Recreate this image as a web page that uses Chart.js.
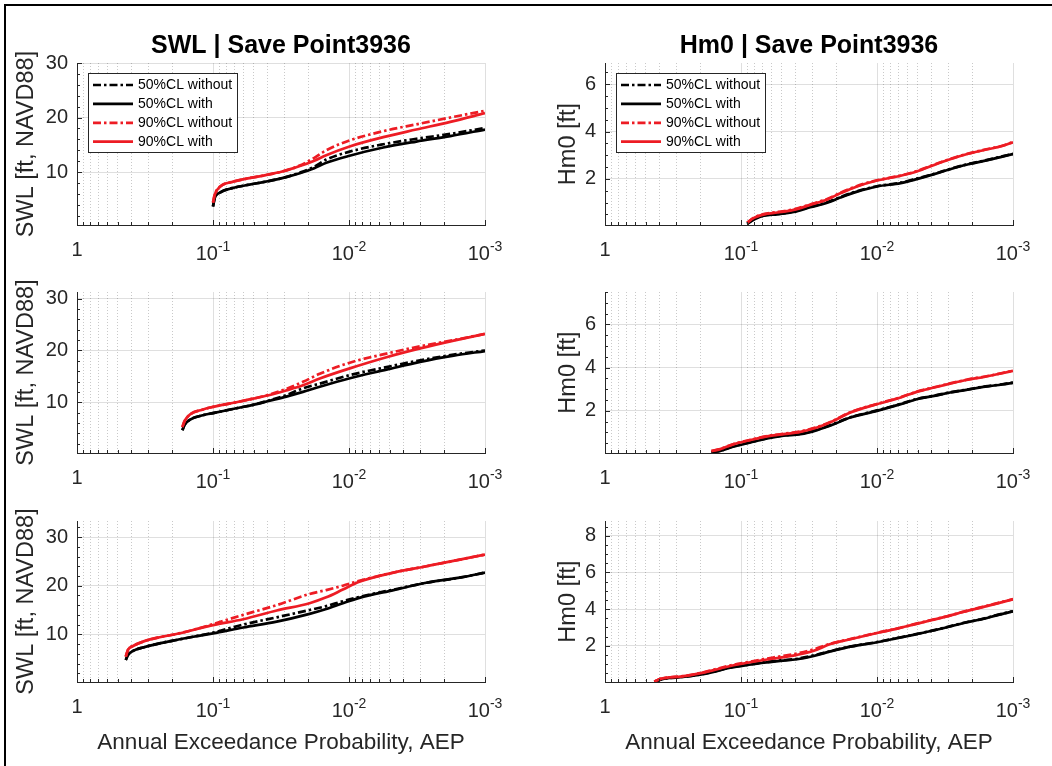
<!DOCTYPE html>
<html>
<head>
<meta charset="utf-8">
<script src="https://cdn.jsdelivr.net/npm/chart.js@4.4.1/dist/chart.umd.min.js"></script>
<style>
  html, body { margin: 0; padding: 0; background: #fff; }
  body { width: 1052px; height: 766px; position: relative; overflow: hidden; }
  .frame { position: absolute; left: 4px; top: 4px; width: 1100px; height: 800px;
           border-left: 2px solid #000; border-top: 2px solid #000; }
  canvas.panel { position: absolute; top: 0; }
</style>
</head>
<body>
<div class="frame"></div>
<canvas class="panel" id="swl1" width="520" height="766" style="left:0"></canvas>
<canvas class="panel" id="hm01" width="532" height="766" style="left:520px"></canvas>
<canvas class="panel" id="swl2" width="520" height="766" style="left:0"></canvas>
<canvas class="panel" id="hm02" width="532" height="766" style="left:520px"></canvas>
<canvas class="panel" id="swl3" width="520" height="766" style="left:0"></canvas>
<canvas class="panel" id="hm03" width="532" height="766" style="left:520px"></canvas>
<script>
// ---- data ----
const seriesLabels = ['50%CL without', '50%CL with', '90%CL without', '90%CL with'];
const xMajorExponents = [0, -1, -2, -3];
const swlTicks = [10, 20, 30];
const hm0Ticks = [2, 4, 6];
const hm0TicksRow3 = [2, 4, 6, 8];

// SWL, row 1
const aepSwlRow1 = [0.1, 0.097, 0.089, 0.071, 0.054, 0.041, 0.031, 0.023, 0.018, 0.0147, 0.0099, 0.0056, 0.0032, 0.0018, 0.001];
const swlRow1Cl50Without = [3.7, 5.3, 6.25, 7.1, 7.7, 8.25, 8.9, 9.9, 11.0, 12.3, 13.75, 15.1, 16.1, 17.0, 18.1];
const swlRow1Cl50With = [3.7, 5.3, 6.25, 7.1, 7.7, 8.25, 8.9, 9.8, 10.7, 11.7, 13.0, 14.5, 15.6, 16.6, 17.8];
const swlRow1Cl90Without = [4.4, 5.9, 7.3, 8.25, 8.9, 9.45, 10.1, 11.2, 12.6, 14.0, 15.8, 17.5, 18.75, 20.0, 21.25];
const swlRow1Cl90With = [4.4, 5.9, 7.3, 8.25, 8.9, 9.45, 10.1, 11.1, 12.1, 13.1, 14.7, 16.4, 17.8, 19.2, 20.8];

// Hm0, row 1
const aepHm0Row1 = [0.09, 0.081, 0.068, 0.054, 0.041, 0.031, 0.023, 0.0186, 0.014, 0.01, 0.0067, 0.0051, 0.0038, 0.0029, 0.0022, 0.0016, 0.0012, 0.001];
const hm0Row1Cl50Without = [0.1, 0.28, 0.45, 0.51, 0.62, 0.82, 1.02, 1.23, 1.48, 1.69, 1.84, 2.01, 2.21, 2.42, 2.61, 2.78, 2.95, 3.06];
const hm0Row1Cl50With = [0.1, 0.27, 0.44, 0.5, 0.6, 0.8, 1.0, 1.21, 1.46, 1.68, 1.82, 1.99, 2.2, 2.41, 2.6, 2.77, 2.94, 3.05];
const hm0Row1Cl90Without = [0.15, 0.35, 0.51, 0.6, 0.71, 0.92, 1.16, 1.41, 1.7, 1.94, 2.14, 2.33, 2.6, 2.84, 3.05, 3.24, 3.4, 3.56];
const hm0Row1Cl90With = [0.15, 0.34, 0.5, 0.58, 0.69, 0.9, 1.14, 1.39, 1.68, 1.93, 2.13, 2.31, 2.59, 2.83, 3.04, 3.23, 3.39, 3.55];

// SWL, row 2
const aepSwlRow2 = [0.168, 0.1615, 0.1485, 0.1185, 0.1, 0.0673, 0.0508, 0.0383, 0.0289, 0.0218, 0.0164, 0.01, 0.0053, 0.003, 0.0017, 0.001];
const swlRow2Cl50Without = [4.6, 5.67, 6.6, 7.5, 7.9, 8.85, 9.5, 10.4, 11.4, 12.7, 13.6, 15.2, 16.8, 18.1, 19.2, 20.0];
const swlRow2Cl50With = [4.6, 5.67, 6.6, 7.5, 7.9, 8.85, 9.5, 10.3, 11.1, 12.0, 13.0, 14.6, 16.3, 17.8, 19.0, 19.9];
const swlRow2Cl90Without = [5.2, 6.4, 7.6, 8.6, 9.1, 10.0, 10.7, 11.5, 12.6, 13.95, 15.5, 17.6, 19.4, 20.8, 22.0, 23.2];
const swlRow2Cl90With = [5.2, 6.4, 7.6, 8.6, 9.1, 10.0, 10.7, 11.4, 12.3, 13.3, 14.6, 16.5, 18.7, 20.4, 21.9, 23.2];

// Hm0, row 2
const aepHm0Row2 = [0.165, 0.142, 0.113, 0.0853, 0.0644, 0.0486, 0.0366, 0.0276, 0.0208, 0.0157, 0.01, 0.0067, 0.0051, 0.0038, 0.0029, 0.0022, 0.0016, 0.0012, 0.001];
const hm0Row2Cl50Without = [0.08, 0.16, 0.36, 0.55, 0.73, 0.86, 0.94, 1.13, 1.4, 1.7, 2.02, 2.32, 2.55, 2.7, 2.86, 2.98, 3.13, 3.23, 3.31];
const hm0Row2Cl50With = [0.08, 0.15, 0.35, 0.54, 0.72, 0.85, 0.92, 1.11, 1.38, 1.69, 2.0, 2.31, 2.54, 2.69, 2.85, 2.97, 3.12, 3.22, 3.3];
const hm0Row2Cl90Without = [0.14, 0.24, 0.47, 0.66, 0.83, 0.94, 1.05, 1.25, 1.56, 1.94, 2.32, 2.63, 2.89, 3.09, 3.27, 3.44, 3.59, 3.75, 3.86];
const hm0Row2Cl90With = [0.14, 0.23, 0.46, 0.65, 0.82, 0.92, 1.03, 1.23, 1.54, 1.92, 2.31, 2.62, 2.88, 3.08, 3.26, 3.43, 3.58, 3.74, 3.85];

// SWL, row 3
const aepSwlRow3 = [0.438, 0.422, 0.387, 0.327, 0.247, 0.186, 0.14, 0.1, 0.06, 0.034, 0.0195, 0.0147, 0.0111, 0.0084, 0.0047, 0.0027, 0.0015, 0.001];
const swlRow3Cl50Without = [4.73, 5.75, 6.6, 7.3, 8.15, 8.84, 9.5, 10.35, 12.0, 13.5, 15.0, 15.8, 16.8, 17.7, 19.2, 20.6, 21.7, 22.7];
const swlRow3Cl50With = [4.73, 5.75, 6.6, 7.3, 8.15, 8.84, 9.5, 10.2, 11.4, 12.6, 14.2, 15.2, 16.4, 17.5, 19.1, 20.6, 21.7, 22.7];
const swlRow3Cl90Without = [5.4, 6.8, 7.6, 8.5, 9.4, 10.07, 10.9, 12.1, 14.0, 16.0, 18.3, 19.1, 20.0, 21.0, 22.7, 24.0, 25.4, 26.4];
const swlRow3Cl90With = [5.4, 6.8, 7.6, 8.5, 9.4, 10.07, 10.9, 11.9, 13.1, 14.9, 16.4, 17.6, 19.2, 20.8, 22.7, 24.0, 25.4, 26.4];

// Hm0, row 3
const aepHm0Row3 = [0.434, 0.392, 0.331, 0.279, 0.211, 0.159, 0.12, 0.09, 0.068, 0.0514, 0.0387, 0.0292, 0.022, 0.0166, 0.01, 0.0071, 0.0054, 0.004, 0.003, 0.0023, 0.0017, 0.0013, 0.001];
const hm0Row3Cl50Without = [0.03, 0.15, 0.24, 0.29, 0.4, 0.58, 0.81, 0.96, 1.09, 1.2, 1.29, 1.47, 1.7, 1.92, 2.2, 2.42, 2.6, 2.81, 3.03, 3.25, 3.45, 3.68, 3.88];
const hm0Row3Cl50With = [0.03, 0.15, 0.24, 0.28, 0.39, 0.57, 0.8, 0.94, 1.07, 1.17, 1.26, 1.44, 1.69, 1.91, 2.19, 2.41, 2.59, 2.8, 3.02, 3.24, 3.44, 3.67, 3.87];
const hm0Row3Cl90Without = [0.04, 0.19, 0.28, 0.32, 0.47, 0.69, 0.92, 1.1, 1.27, 1.42, 1.58, 1.8, 2.11, 2.32, 2.7, 2.94, 3.16, 3.4, 3.62, 3.86, 4.1, 4.32, 4.54];
const hm0Row3Cl90With = [0.04, 0.19, 0.28, 0.31, 0.46, 0.67, 0.89, 1.07, 1.22, 1.35, 1.5, 1.72, 2.09, 2.31, 2.69, 2.93, 3.15, 3.39, 3.61, 3.85, 4.09, 4.31, 4.53];

// ---- styling / layout ----
const FONT = '"Liberation Sans", Arial, Helvetica, sans-serif';
const AXIS_COLOR = '#262626';
const MAJOR_GRID = 'rgba(38,38,38,0.15)';
const MINOR_GRID = 'rgba(38,38,38,0.25)';
const RED = '#ed1c24';
const seriesColors = ['#000000', '#000000', RED, RED];
const seriesDash = [[8, 3, 2.5, 3], [], [8, 3, 2.5, 3], []];
const PAGE_H = 766;
const X_AXIS_H = 20;

const columns = [
  { axisWidth: 77, padRight: 35, yTitleX: 33 },
  { axisWidth: 85, padRight: 39, yTitleX: 55 }
];
const rows = [
  { top: 63, bottom: 225 },
  { top: 292, bottom: 453 },
  { top: 521, bottom: 682 }
];

const swlTitle = 'SWL [ft, NAVD88]';
const hm0Title = 'Hm0 [ft]';

const panels = [
  { id: 'swl1', col: 0, row: 0, title: 'SWL | Save Point3936', yTitle: swlTitle, aep: aepSwlRow1,
    series: [swlRow1Cl50Without, swlRow1Cl50With, swlRow1Cl90Without, swlRow1Cl90With],
    yMin: 0.3, yMax: 30, yTicks: swlTicks, yMinor: 2, legend: true },
  { id: 'hm01', col: 1, row: 0, title: 'Hm0 | Save Point3936', yTitle: hm0Title, aep: aepHm0Row1,
    series: [hm0Row1Cl50Without, hm0Row1Cl50With, hm0Row1Cl90Without, hm0Row1Cl90With],
    yMin: 0.05, yMax: 6.9, yTicks: hm0Ticks, yMinor: 0.5, legend: true },
  { id: 'swl2', col: 0, row: 1, yTitle: swlTitle, aep: aepSwlRow2,
    series: [swlRow2Cl50Without, swlRow2Cl50With, swlRow2Cl90Without, swlRow2Cl90With],
    yMin: 0.2, yMax: 31.3, yTicks: swlTicks, yMinor: 2 },
  { id: 'hm02', col: 1, row: 1, yTitle: hm0Title, aep: aepHm0Row2,
    series: [hm0Row2Cl50Without, hm0Row2Cl50With, hm0Row2Cl90Without, hm0Row2Cl90With],
    yMin: 0.05, yMax: 7.5, yTicks: hm0Ticks, yMinor: 0.5 },
  { id: 'swl3', col: 0, row: 2, yTitle: swlTitle, xTitle: 'Annual Exceedance Probability, AEP', aep: aepSwlRow3,
    series: [swlRow3Cl50Without, swlRow3Cl50With, swlRow3Cl90Without, swlRow3Cl90With],
    yMin: 0.2, yMax: 33.3, yTicks: swlTicks, yMinor: 2 },
  { id: 'hm03', col: 1, row: 2, yTitle: hm0Title, xTitle: 'Annual Exceedance Probability, AEP', aep: aepHm0Row3,
    series: [hm0Row3Cl50Without, hm0Row3Cl50With, hm0Row3Cl90Without, hm0Row3Cl90With],
    yMin: 0.02, yMax: 8.8, yTicks: hm0TicksRow3, yMinor: 0.5 }
];

// log ticks 1..9 per decade, from 1e-3 up to 1
const xTickValues = [];
for (let e = -3; e < 0; e++) {
  for (let m = 1; m < 10; m++) xTickValues.push(+(m * Math.pow(10, e)).toPrecision(3));
}
xTickValues.push(1);

const isDecade = v => Math.abs(Math.log10(v) - Math.round(Math.log10(v))) < 1e-6;

// titles, inward tick marks, superscript tick labels and the legend box
const panelDecor = {
  id: 'panelDecor',
  afterDraw(chart, args, opts) {
    const { ctx, chartArea: a, scales: { x, y } } = chart;
    const p = opts.panel;
    ctx.save();

    // tick marks pointing into the axes
    ctx.strokeStyle = AXIS_COLOR;
    ctx.lineWidth = 1;
    ctx.beginPath();
    xTickValues.forEach(v => {
      const px = Math.round(x.getPixelForValue(v)) + 0.5;
      const len = isDecade(v) ? 5 : 3;
      ctx.moveTo(px, a.bottom);
      ctx.lineTo(px, a.bottom - len);
    });
    for (let v = Math.ceil(p.yMin / p.yMinor) * p.yMinor; v <= p.yMax + 1e-9; v += p.yMinor) {
      const py = Math.round(y.getPixelForValue(v)) + 0.5;
      const len = p.yTicks.some(t => Math.abs(t - v) < 1e-9) ? 5 : 3;
      ctx.moveTo(a.left, py);
      ctx.lineTo(a.left + len, py);
    }
    ctx.stroke();

    // x tick labels: 1, 10^-1, 10^-2, 10^-3
    ctx.fillStyle = AXIS_COLOR;
    ctx.textBaseline = 'alphabetic';
    xMajorExponents.forEach(e => {
      const px = x.getPixelForValue(Math.pow(10, e));
      if (e === 0) {
        ctx.font = `20px ${FONT}`;
        ctx.textAlign = 'center';
        ctx.fillText('1', px, a.bottom + 31);
        return;
      }
      ctx.textAlign = 'left';
      ctx.font = `20px ${FONT}`;
      const baseW = ctx.measureText('10').width;
      ctx.font = `14px ${FONT}`;
      const sup = String(e);
      const supW = ctx.measureText(sup).width;
      const x0 = px - (baseW + supW) / 2;
      ctx.font = `20px ${FONT}`;
      ctx.fillText('10', x0, a.bottom + 35);
      ctx.font = `14px ${FONT}`;
      ctx.fillText(sup, x0 + baseW, a.bottom + 25.5);
    });

    // axis titles
    const cx = (a.left + a.right) / 2;
    ctx.textAlign = 'center';
    ctx.fillStyle = AXIS_COLOR;
    if (p.title) {
      ctx.font = `bold 25px ${FONT}`;
      ctx.fillStyle = '#000';
      ctx.fillText(p.title, cx, a.top - 10);
      ctx.fillStyle = AXIS_COLOR;
    }
    if (p.xTitle) {
      ctx.font = `22.5px ${FONT}`;
      ctx.fillText(p.xTitle, cx, a.bottom + 67);
    }
    ctx.save();
    ctx.translate(columns[p.col].yTitleX, (a.top + a.bottom) / 2);
    ctx.rotate(-Math.PI / 2);
    ctx.font = `23.5px ${FONT}`;
    ctx.fillText(p.yTitle, 0, 0);
    ctx.restore();

    // legend
    if (p.legend) {
      const bx = Math.round(a.left + 11), by = Math.round(a.top + 10), bw = 149, bh = 79;
      ctx.fillStyle = '#fff';
      ctx.fillRect(bx, by, bw, bh);
      ctx.strokeStyle = AXIS_COLOR;
      ctx.lineWidth = 1;
      ctx.strokeRect(bx + 0.5, by + 0.5, bw, bh);
      chart.data.datasets.forEach((ds, i) => {
        const cy = by + 12 + i * 18.9;
        ctx.beginPath();
        ctx.setLineDash(ds.borderDash);
        ctx.strokeStyle = ds.borderColor;
        ctx.lineWidth = ds.borderWidth;
        ctx.moveTo(bx + 5, cy);
        ctx.lineTo(bx + 45, cy);
        ctx.stroke();
        ctx.setLineDash([]);
        ctx.fillStyle = '#000';
        ctx.font = `14px ${FONT}`;
        ctx.textAlign = 'left';
        ctx.textBaseline = 'middle';
        ctx.fillText(ds.label, bx + 50, cy + 0.5);
      });
    }
    ctx.restore();
  }
};

panels.forEach(p => {
  const col = columns[p.col];
  const row = rows[p.row];
  new Chart(document.getElementById(p.id), {
    type: 'scatter',
    data: {
      datasets: p.series.map((vals, i) => ({
        label: seriesLabels[i],
        data: p.aep.map((aep, k) => ({ x: aep, y: vals[k] })),
        showLine: true,
        borderColor: seriesColors[i],
        borderDash: seriesDash[i],
        borderWidth: 2.7,
        pointRadius: 0,
        pointHoverRadius: 0,
        cubicInterpolationMode: 'monotone',
        fill: false,
        order: 4 - i
      }))
    },
    options: {
      responsive: false,
      animation: false,
      events: [],
      layout: {
        padding: { top: row.top, bottom: PAGE_H - row.bottom - X_AXIS_H, left: 0, right: col.padRight }
      },
      plugins: {
        legend: { display: false },
        tooltip: { enabled: false },
        panelDecor: { panel: p }
      },
      scales: {
        x: {
          type: 'logarithmic',
          reverse: true,
          min: 0.001,
          max: 1,
          afterBuildTicks: s => { s.ticks = xTickValues.map(v => ({ value: v })); },
          afterFit: s => { s.height = X_AXIS_H; },
          ticks: { display: false },
          grid: {
            drawTicks: false,
            lineWidth: 1,
            color: c => (c.tick && !isDecade(c.tick.value)) ? MINOR_GRID : MAJOR_GRID
          },
          border: {
            color: AXIS_COLOR,
            width: 1,
            dash: c => (c.tick && !isDecade(c.tick.value)) ? [1, 2] : []
          }
        },
        y: {
          type: 'linear',
          min: p.yMin,
          max: p.yMax,
          afterBuildTicks: s => { s.ticks = p.yTicks.map(v => ({ value: v })); },
          afterFit: s => { s.width = col.axisWidth; },
          ticks: { font: { family: FONT, size: 20 }, color: AXIS_COLOR, padding: 9 },
          grid: { drawTicks: false, color: MAJOR_GRID, lineWidth: 1 },
          border: { color: AXIS_COLOR, width: 1 }
        }
      }
    },
    plugins: [panelDecor]
  });
});
</script>
</body>
</html>
